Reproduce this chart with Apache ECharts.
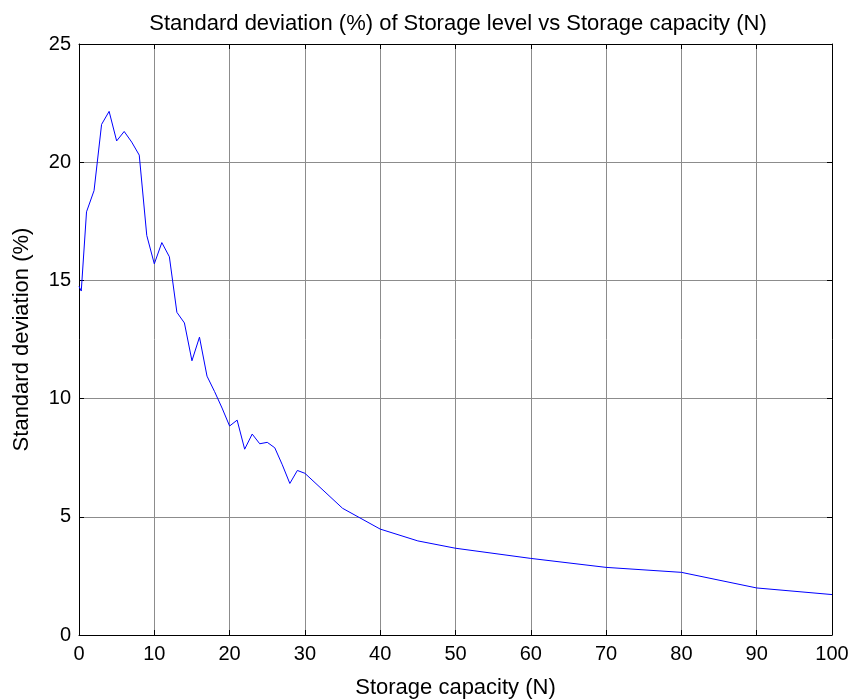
<!DOCTYPE html>
<html>
<head>
<meta charset="utf-8">
<script src="https://cdn.jsdelivr.net/npm/echarts@6/dist/echarts.min.js"></script>
<style>
  html, body { margin: 0; padding: 0; background: #fff; }
  #chart { width: 853px; height: 700px; }
</style>
</head>
<body>
<div id="chart"></div>
<script>
// Storage capacity N and the standard deviation (%) of the storage level
const capacity = [0, 0.3, 1, 2, 3, 4, 5, 6, 7, 8, 9, 10, 11, 12, 13, 14, 15, 16, 17, 18, 19, 20,
  21, 22, 23, 24, 25, 26, 27, 28, 29, 30, 35, 40, 45, 50, 60, 70, 80, 90, 100];
const stdDev = [14.75, 14.55, 17.9, 18.8, 21.6, 22.15, 20.9, 21.3, 20.85, 20.3, 16.9, 15.7, 16.6, 16.0,
  13.65, 13.2, 11.6, 12.6, 10.95, 10.3, 9.6, 8.84, 9.09, 7.86, 8.5, 8.09, 8.15, 7.92, 7.2, 6.41,
  6.96, 6.84, 5.36, 4.48, 3.98, 3.67, 3.24, 2.86, 2.65, 1.99, 1.71];
const xTicks = [0, 10, 20, 30, 40, 50, 60, 70, 80, 90, 100];
const yTicks = [0, 5, 10, 15, 20, 25];

const FONT = 'Liberation Sans, Arial, Helvetica, sans-serif';
const points = capacity.map((n, i) => [n, stdDev[i]]);

// black box with short inward ticks on every side
const boxAxis = {
  axisLine: { show: true, onZero: false, lineStyle: { color: '#000', width: 1 } },
  axisTick: { show: true, inside: true, length: 5, lineStyle: { color: '#000', width: 1 } }
};

const chart = echarts.init(document.getElementById('chart'), null, { renderer: 'canvas' });
chart.setOption({
  animation: false,
  backgroundColor: '#fff',
  title: {
    text: 'Standard deviation (%) of Storage level vs Storage capacity (N)',
    left: 453, textAlign: 'center',
    top: 8,
    textStyle: { fontFamily: FONT, fontSize: 22, fontWeight: 'normal', color: '#000' }
  },
  grid: { left: 79, right: 21, top: 44, bottom: 65, containLabel: false, outerBoundsMode: 'none' },
  xAxis: [
    Object.assign({
      type: 'value', min: xTicks[0], max: xTicks[xTicks.length - 1], interval: 10,
      name: 'Storage capacity (N)', nameLocation: 'middle', nameGap: 42,
      nameTextStyle: { fontFamily: FONT, fontSize: 22, color: '#000' },
      axisLabel: { fontFamily: FONT, fontSize: 20, color: '#000', margin: 9 },
      splitLine: { show: true, lineStyle: { color: '#8c8c8c', width: 1 } },
      z: 3
    }, boxAxis),
    Object.assign({
      type: 'value', position: 'top', min: 0, max: 100, interval: 10,
      axisLabel: { show: false }, splitLine: { show: false }, z: 3
    }, boxAxis)
  ],
  yAxis: [
    Object.assign({
      type: 'value', min: yTicks[0], max: yTicks[yTicks.length - 1], interval: 5,
      name: 'Standard deviation (%)', nameLocation: 'middle', nameGap: 46,
      nameTextStyle: { fontFamily: FONT, fontSize: 22, color: '#000' },
      axisLabel: { fontFamily: FONT, fontSize: 20, color: '#000', margin: 8 },
      splitLine: { show: true, lineStyle: { color: '#8c8c8c', width: 1 } },
      z: 3
    }, boxAxis),
    Object.assign({
      type: 'value', position: 'right', min: 0, max: 25, interval: 5,
      axisLabel: { show: false }, splitLine: { show: false }, z: 3
    }, boxAxis)
  ],
  series: [{
    type: 'line',
    data: points,
    showSymbol: false,
    lineStyle: { color: '#0000ff', width: 1 },
    z: 5
  }]
});
</script>
</body>
</html>
